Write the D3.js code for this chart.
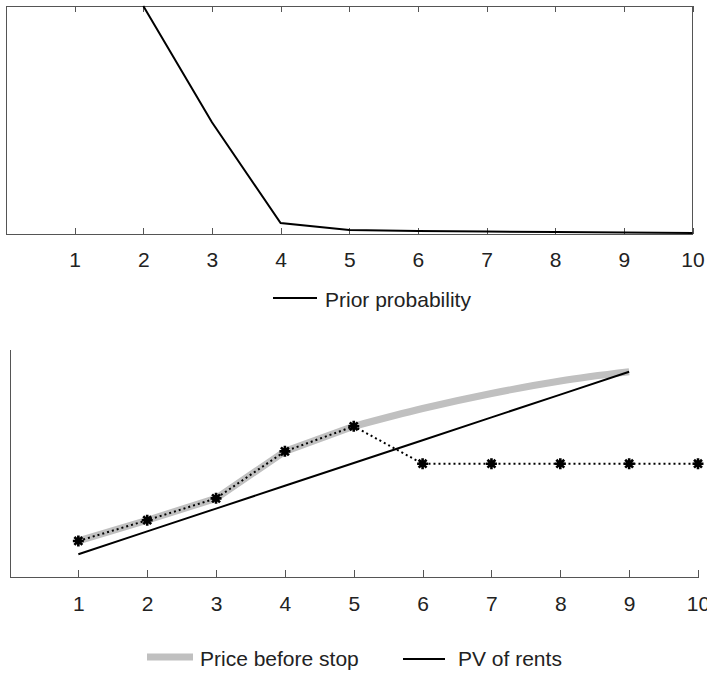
<!DOCTYPE html>
<html>
<head>
<meta charset="utf-8">
<script src="https://cdn.jsdelivr.net/npm/d3@7"></script>
<style>
  body { margin: 0; background: #fff; }
  svg { display: block; font-family: "Liberation Sans", Arial, sans-serif; }
  .axis path, .axis line { stroke: #555; stroke-width: 1; shape-rendering: crispEdges; }
  .axis text { fill: #222; font-size: 21px; }
</style>
</head>
<body>
<svg id="chart" width="707" height="675"></svg>
<script>
// Periods on the x axis
var periods = [1, 2, 3, 4, 5, 6, 7, 8, 9, 10];

// Top panel: prior probability (starts at period 2)
var prior_periods = [2, 3, 4, 5, 6, 7, 8, 9, 10];
var prior_prob    = [1.0, 0.49, 0.048, 0.0175, 0.013, 0.011, 0.009, 0.0066, 0.0044];

// Bottom panel
var price_periods     = [1, 2, 3, 4, 5, 6, 7, 8, 9, 10];
var price_path        = [1.58, 2.49, 3.45, 5.51, 6.61, 4.97, 4.97, 4.97, 4.97, 4.97];
var before_periods    = [1, 2, 3, 4, 5, 6, 7, 8, 9];
var price_before_stop = [1.58, 2.49, 3.45, 5.51, 6.61, 7.39, 8.05, 8.60, 9.0];
var pv_periods        = [1, 2, 3, 4, 5, 6, 7, 8, 9];
var pv_rents          = [1, 2, 3, 4, 5, 6, 7, 8, 9];

var svg = d3.select("#chart");

function zip(xs, ys) {
  return xs.map(function (x, i) { return [x, ys[i]]; });
}

// ---------- Top panel ----------
var top_x = d3.scaleLinear().domain([0, 10]).range([6, 692.5]);
var top_y = d3.scaleLinear().domain([0, 1]).range([234, 6]);

var top_g = svg.append("g");

// Box around the plot
top_g.append("rect")
  .attr("x", top_x(0))
  .attr("y", top_y(1))
  .attr("width", top_x(10) - top_x(0))
  .attr("height", top_y(0) - top_y(1))
  .attr("fill", "none")
  .attr("stroke", "#555")
  .attr("stroke-width", 1)
  .attr("shape-rendering", "crispEdges");

top_g.append("g")
  .attr("class", "axis")
  .attr("transform", "translate(0," + top_y(0) + ")")
  .call(d3.axisBottom(top_x).tickValues(periods).tickSizeInner(-6).tickSizeOuter(0).tickPadding(18).tickFormat(d3.format("d")));

// Ticks on the top edge, no labels
top_g.append("g")
  .attr("class", "axis")
  .attr("transform", "translate(0," + top_y(1) + ")")
  .call(d3.axisTop(top_x).tickValues(periods).tickSizeInner(-6).tickSizeOuter(0).tickFormat(""));

top_g.append("path")
  .datum(zip(prior_periods, prior_prob))
  .attr("fill", "none")
  .attr("stroke", "#000")
  .attr("stroke-width", 2)
  .attr("d", d3.line()
    .x(function (d) { return top_x(d[0]); })
    .y(function (d) { return top_y(d[1]); }));

// Legend
top_g.append("line")
  .attr("x1", 273).attr("x2", 317)
  .attr("y1", 298).attr("y2", 298)
  .attr("stroke", "#000").attr("stroke-width", 2);
top_g.append("text")
  .attr("x", 325).attr("y", 307)
  .attr("font-size", 21).attr("fill", "#222")
  .text("Prior probability");

// ---------- Bottom panel ----------
var bot_x = d3.scaleLinear().domain([0, 10]).range([9.5, 698]);
var bot_y = d3.scaleLinear().domain([0, 10]).range([577, 349]);

var bot_g = svg.append("g");

bot_g.append("g")
  .attr("class", "axis")
  .attr("transform", "translate(0," + bot_y(0) + ")")
  .call(d3.axisBottom(bot_x).tickValues(periods).tickSizeInner(-7).tickSizeOuter(0).tickPadding(19).tickFormat(d3.format("d")));

bot_g.append("g")
  .attr("class", "axis")
  .attr("transform", "translate(" + bot_x(0) + ",0)")
  .call(d3.axisLeft(bot_y).tickValues([]).tickSizeOuter(0));

var straight = d3.line()
  .x(function (d) { return bot_x(d[0]); })
  .y(function (d) { return bot_y(d[1]); });

var smooth = d3.line()
  .curve(d3.curveMonotoneX)
  .x(function (d) { return bot_x(d[0]); })
  .y(function (d) { return bot_y(d[1]); });

// Price before stop (thick grey): kinked up to period 5, smooth after it
var before_pts = zip(before_periods, price_before_stop);
bot_g.append("path")
  .datum(before_pts.slice(0, 5))
  .attr("fill", "none")
  .attr("stroke", "#c0c0c0")
  .attr("stroke-width", 7)
  .attr("stroke-linejoin", "round")
  .attr("d", straight);
bot_g.append("path")
  .datum(before_pts.slice(4))
  .attr("fill", "none")
  .attr("stroke", "#c0c0c0")
  .attr("stroke-width", 7)
  .attr("d", smooth);

// PV of rents
bot_g.append("path")
  .datum(zip(pv_periods, pv_rents))
  .attr("fill", "none")
  .attr("stroke", "#000")
  .attr("stroke-width", 2)
  .attr("d", straight);

// Realised price path, dotted with star markers
bot_g.append("path")
  .datum(zip(price_periods, price_path))
  .attr("fill", "none")
  .attr("stroke", "#000")
  .attr("stroke-width", 2)
  .attr("stroke-dasharray", "2,3")
  .attr("d", straight);

function star_path(r) {
  var k = r * 0.72;
  return "M" + (-r) + ",0L" + r + ",0" +
    "M0," + (-r) + "L0," + r +
    "M" + (-k) + "," + (-k) + "L" + k + "," + k +
    "M" + (-k) + "," + k + "L" + k + "," + (-k);
}

bot_g.selectAll(".star")
  .data(zip(price_periods, price_path))
  .enter().append("path")
  .attr("class", "star")
  .attr("transform", function (d) {
    return "translate(" + bot_x(d[0]) + "," + bot_y(d[1]) + ")";
  })
  .attr("d", star_path(5.5))
  .attr("fill", "none")
  .attr("stroke", "#000")
  .attr("stroke-width", 2.6);

// Legend
bot_g.append("line")
  .attr("x1", 147).attr("x2", 193)
  .attr("y1", 657).attr("y2", 657)
  .attr("stroke", "#c0c0c0").attr("stroke-width", 7);
bot_g.append("text")
  .attr("x", 200).attr("y", 666)
  .attr("font-size", 21).attr("fill", "#222")
  .text("Price before stop");
bot_g.append("line")
  .attr("x1", 403).attr("x2", 445)
  .attr("y1", 659).attr("y2", 659)
  .attr("stroke", "#000").attr("stroke-width", 2);
bot_g.append("text")
  .attr("x", 458).attr("y", 666)
  .attr("font-size", 21).attr("fill", "#222")
  .text("PV of rents");
</script>
</body>
</html>
